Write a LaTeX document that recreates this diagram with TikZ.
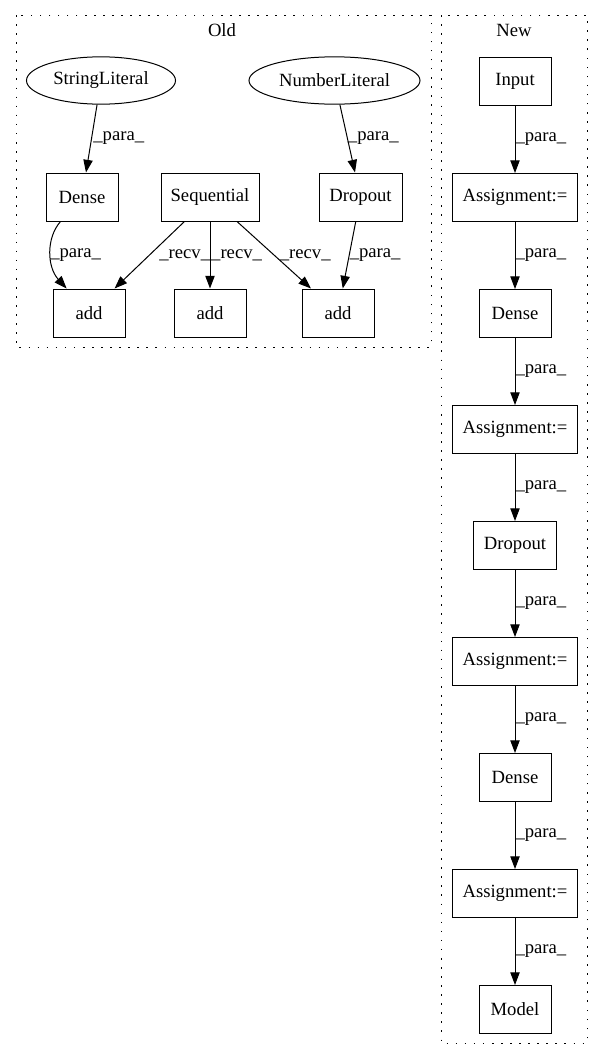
\documentclass[tikz,border=0pt]{standalone}
\usepackage{fontspec}
\setmainfont{Liberation Serif}
\usepackage{tikz}
\usetikzlibrary{positioning}
\usetikzlibrary{shapes.geometric,arrows.meta}

\begin{document}
\begin{tikzpicture}[>={Triangle[length=9.5pt,width=7pt]}, x=0.75pt, y=-0.75pt, node distance = 50.25pt]
            % Set primary nodes
            \tikzset{
                opNode/.style={
                        draw,
                        rectangle,
                        line width=0.75pt,
                        minimum height=36pt,
                        minimum width=54pt,
                        inner sep=0pt,
                        font=\fontsize{14pt}{16pt}\selectfont
                    }
            }
            \tikzset{
                literalNode/.style={
                        draw,
                        ellipse,
                        line width=0.75pt,
                        minimum height=35.5pt,
                        inner sep=0pt,
                        font=\fontsize{14pt}{16pt}\selectfont
                    }
            }
            \tikzset{
                clusterBox/.style={
                        line width=0.75pt,
                        dash pattern=on 1.2pt off 5.6pt
                    }
            }
            \tikzset{
                edgeLabel/.style={
                        right,
                        inner sep=0pt,
                        font=\fontsize{14pt}{16pt}\selectfont
                    }
            }
            % Configure arrows
            \tikzstyle{arrow} = [line width=0.75pt, ->]
            \useasboundingbox (0,0) rectangle (604,1060);
            % Clusters
            \draw[clusterBox] (16,15) rectangle (431,347);
            \draw[clusterBox] (441,15) rectangle (587,1043);
            \node[font=\fontsize{14pt}{16pt}\selectfont](oldTitle) at (222,30){Old};
            \node[font=\fontsize{14pt}{16pt}\selectfont](newTitle) at (514,30){New};
            % Placing nodes (Old)
            \node[literalNode, minimum width=111.75pt](stringLiteral) at (101,80.5){StringLiteral};
            \node[literalNode, minimum width=128.25pt](numberLiteral) at (334.5,80.5){NumberLiteral};
            \node[opNode](oldDense) at (82,197){Dense};
            \node[opNode, minimum width=73.5pt](sequential) at (210,197){Sequential};
            \node[opNode, minimum width=62.25pt](oldDropout) at (360.5,197){Dropout};
            \node[opNode](add1) at (89,313){add};
            \node[opNode](add2) at (210,313){add};
            \node[opNode](add3) at (338,313){add};
            % Placing nodes (New)
            \node[opNode](input) at (515,81.5){Input};
            \node[opNode, minimum width=94pt, below = of input](assign1){Assignment:=};
            \node[opNode, below = of assign1](newDense1){Dense};
            \node[opNode, minimum width=94pt, below = of newDense1](assign2){Assignment:=};
            \node[opNode, minimum width=62.25pt, below = of assign2](newDropout){Dropout};
            \node[opNode, minimum width=94pt, below = of newDropout](assign3){Assignment:=};
            \node[opNode, below = of assign3](newDense2){Dense};
            \node[opNode, minimum width=94pt, below = of newDense2](assign4){Assignment:=};
            \node[opNode, below = of assign4](model){Model};
            % Draw arrows (Old)
            \draw[arrow](stringLiteral) -- (oldDense) node[midway, edgeLabel, xshift=1pt]{\_para\_};
            \draw[arrow](numberLiteral) -- (oldDropout) node[midway, edgeLabel]{\_para\_};
            \draw[arrow](oldDense) .. controls (46,238) and (47,267) .. (add1);
            \node[edgeLabel](denseAddLabel) at (50,255){\_para\_};
            \draw[arrow](sequential) -- (add1) node[midway, edgeLabel, xshift=7pt]{\_recv\_};
            \draw[arrow](sequential) -- (add2) node[midway, edgeLabel, xshift=0.5pt]{\_recv\_};
            \draw[arrow](sequential) -- (add3) node[midway, edgeLabel, xshift=4pt]{\_recv\_};
            \draw[arrow](oldDropout) -- (add3) node[midway, edgeLabel]{\_para\_};
            % Draw arrows (New)
            \draw[arrow](input) -- (assign1) node[midway, edgeLabel]{\_para\_};
            \draw[arrow](assign1) -- (newDense1) node[midway, edgeLabel]{\_para\_};
            \draw[arrow](newDense1) -- (assign2) node[midway, edgeLabel]{\_para\_};
            \draw[arrow](assign2) -- (newDropout) node[midway, edgeLabel]{\_para\_};
            \draw[arrow](newDropout) -- (assign3) node[midway, edgeLabel]{\_para\_};
            \draw[arrow](assign3) -- (newDense2) node[midway, edgeLabel]{\_para\_};
            \draw[arrow](newDense2) -- (assign4) node[midway, edgeLabel]{\_para\_};
            \draw[arrow](assign4) -- (model) node[midway, edgeLabel]{\_para\_};

        \end{tikzpicture}
\end{document}
